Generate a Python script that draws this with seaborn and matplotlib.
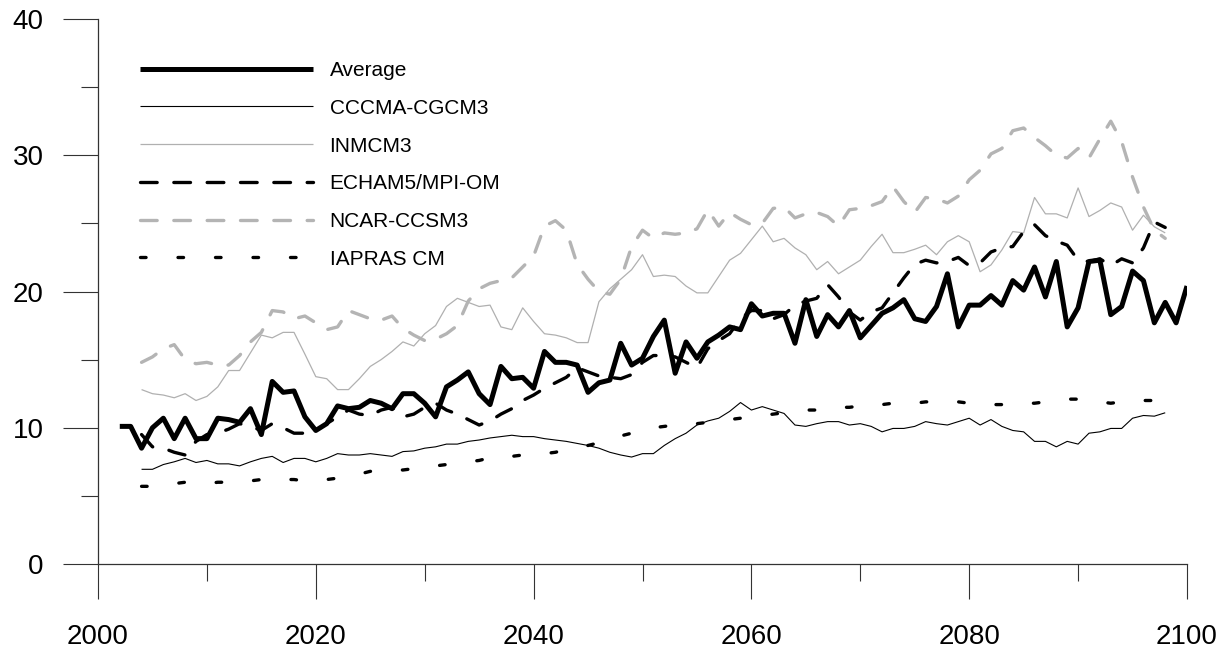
import matplotlib
matplotlib.use("Agg")
import matplotlib.pyplot as plt
import seaborn as sns
import numpy as np
import pandas as pd
from matplotlib.ticker import MultipleLocator

# ---------------- data ----------------
years_avg = list(range(2002, 2101))
years_mod = list(range(2004, 2099))

average = [
    10.1, 10.1, 8.5, 10.0, 10.7, 9.2, 10.7, 9.2,            # 2002-2009
    9.2, 10.7, 10.6, 10.4, 11.4, 9.5, 13.4, 12.6, 12.7, 10.8,  # 2010-2019
    9.8, 10.3, 11.6, 11.4, 11.5, 12.0, 11.8, 11.4, 12.5, 12.5,  # 2020-2029
    11.8, 10.8, 13.0, 13.5, 14.1, 12.5, 11.7, 14.5, 13.6, 13.7,  # 2030-2039
    12.9, 15.6, 14.8, 14.8, 14.6, 12.6, 13.3, 13.5, 16.2, 14.6,  # 2040-2049
    15.1, 16.7, 17.9, 14.0, 16.3, 15.1, 16.3, 16.8, 17.4, 17.2,  # 2050-2059
    19.1, 18.2, 18.4, 18.4, 16.2, 19.4, 16.7, 18.3, 17.4, 18.6,  # 2060-2069
    16.6, 17.5, 18.4, 18.8, 19.4, 18.0, 17.8, 18.9, 21.3, 17.4,  # 2070-2079
    19.0, 19.0, 19.7, 19.0, 20.8, 20.1, 21.8, 19.6, 22.2, 17.4,  # 2080-2089
    18.8, 22.2, 22.3, 18.3, 18.9, 21.5, 20.8, 17.7, 19.2, 17.7,  # 2090-2099
    20.4,                                                        # 2100
]

cccma = [
    6.95, 6.95, 7.3, 7.5, 7.75, 7.45,                            # 2004-2009
    7.6, 7.35, 7.35, 7.2, 7.5, 7.75, 7.9, 7.45, 7.75, 7.75,      # 2010-2019
    7.5, 7.75, 8.1, 8.0, 8.0, 8.1, 8.0, 7.9, 8.25, 8.3,          # 2020-2029
    8.5, 8.6, 8.8, 8.8, 9.0, 9.1, 9.25, 9.35, 9.45, 9.35,        # 2030-2039
    9.35, 9.2, 9.1, 9.0, 8.85, 8.7, 8.5, 8.2, 8.0, 7.85,         # 2040-2049
    8.1, 8.1, 8.7, 9.2, 9.6, 10.2, 10.5, 10.7, 11.2, 11.85,      # 2050-2059
    11.3, 11.55, 11.3, 11.05, 10.2, 10.1, 10.3, 10.45, 10.45, 10.2,  # 2060-2069
    10.3, 10.1, 9.7, 9.95, 9.95, 10.1, 10.45, 10.3, 10.2, 10.45,     # 2070-2079
    10.7, 10.2, 10.6, 10.1, 9.8, 9.7, 9.0, 9.0, 8.6, 9.0,            # 2080-2089
    8.8, 9.6, 9.7, 9.95, 9.95, 10.7, 10.9, 10.85, 11.1,              # 2090-2098
]

inmcm3 = [
    12.8, 12.5, 12.4, 12.2, 12.5, 12.0,                          # 2004-2009
    12.3, 13.0, 14.2, 14.2, 15.5, 16.8, 16.6, 17.0, 17.0, 15.4,  # 2010-2019
    13.75, 13.6, 12.8, 12.8, 13.6, 14.5, 15.0, 15.6, 16.3, 16.0,  # 2020-2029
    16.9, 17.5, 18.9, 19.5, 19.2, 18.9, 19.0, 17.4, 17.2, 18.8,  # 2030-2039
    17.8, 16.9, 16.8, 16.6, 16.25, 16.25, 19.25, 20.2, 20.9, 21.6,  # 2040-2049
    22.7, 21.1, 21.2, 21.1, 20.4, 19.9, 19.9, 21.1, 22.3, 22.8,  # 2050-2059
    23.8, 24.8, 23.65, 23.9, 23.2, 22.7, 21.6, 22.2, 21.3, 21.8,  # 2060-2069
    22.3, 23.3, 24.2, 22.85, 22.85, 23.1, 23.4, 22.7, 23.65, 24.1,  # 2070-2079
    23.65, 21.45, 21.95, 23.05, 24.4, 24.3, 26.9, 25.7, 25.7, 25.4,  # 2080-2089
    27.6, 25.5, 25.95, 26.5, 26.2, 24.5, 25.6, 24.75, 24.3,          # 2090-2098
]

echam5 = [
    9.5, 8.6, 8.5, 8.2, 8.0, 9.0,                                # 2004-2009
    9.5, 9.6, 9.9, 10.3, 10.1, 9.8, 10.3, 10.0, 9.6, 9.6,        # 2010-2019
    9.8, 10.3, 10.8, 11.3, 11.0, 10.9, 11.3, 11.5, 10.8, 11.0,   # 2020-2029
    11.5, 11.8, 11.3, 11.0, 10.6, 10.2, 10.5, 11.0, 11.4, 12.0,  # 2030-2039
    12.4, 12.9, 13.3, 13.7, 14.4, 14.1, 13.8, 13.7, 13.6, 13.9,  # 2040-2049
    14.8, 15.3, 15.3, 15.2, 14.8, 14.4, 15.8, 16.4, 16.9, 18.0,  # 2050-2059
    18.6, 18.6, 18.0, 18.3, 19.0, 19.3, 19.5, 20.5, 19.6, 18.5,  # 2060-2069
    17.9, 18.5, 18.8, 19.9, 21.0, 22.0, 22.3, 22.1, 22.2, 22.5,  # 2070-2079
    21.9, 22.1, 22.9, 23.2, 23.3, 24.4, 24.9, 24.1, 23.7, 23.4,  # 2080-2089
    22.3, 22.2, 22.4, 21.9, 22.4, 22.1, 23.2, 25.1, 24.7,        # 2090-2098
]

ncar = [
    14.8, 15.2, 15.8, 16.1, 15.0, 14.7,                          # 2004-2009
    14.8, 14.6, 14.6, 15.3, 16.3, 17.0, 18.6, 18.5, 18.0, 18.2,  # 2010-2019
    17.7, 17.2, 17.4, 18.6, 18.3, 18.0, 17.9, 18.2, 17.3, 16.8,  # 2020-2029
    16.4, 16.5, 16.9, 17.5, 19.3, 20.2, 20.6, 20.8, 21.0, 21.8,  # 2030-2039
    22.6, 24.8, 25.2, 24.5, 22.0, 20.9, 20.0, 19.8, 20.9, 23.3,  # 2040-2049
    24.5, 23.9, 24.3, 24.2, 24.3, 24.6, 26.0, 24.8, 25.8, 25.3,  # 2050-2059
    24.9, 25.0, 26.1, 26.2, 25.4, 25.7, 25.8, 25.5, 24.8, 26.0,  # 2060-2069
    26.1, 26.3, 26.6, 27.7, 26.6, 25.8, 26.9, 26.8, 26.5, 27.0,  # 2070-2079
    28.2, 28.9, 30.1, 30.5, 31.8, 32.0, 31.3, 30.7, 30.0, 29.8,  # 2080-2089
    30.5, 29.8, 31.2, 32.5, 31.0, 28.4, 26.2, 24.5, 23.9,        # 2090-2098
]

iapras = [
    5.7, 5.7, 5.8, 5.9, 6.0, 5.9,                                # 2004-2009
    5.9, 6.0, 6.0, 6.1, 6.1, 6.2, 6.2, 6.2, 6.2, 6.1,            # 2010-2019
    6.1, 6.2, 6.3, 6.5, 6.6, 6.8, 6.8, 6.9, 6.9, 7.0,            # 2020-2029
    7.1, 7.2, 7.3, 7.4, 7.5, 7.6, 7.8, 7.9, 7.9, 8.0,            # 2030-2039
    8.1, 8.1, 8.2, 8.4, 8.5, 8.7, 8.9, 9.1, 9.4, 9.6,            # 2040-2049
    9.9, 10.0, 10.1, 10.2, 10.3, 10.3, 10.4, 10.5, 10.6, 10.7,   # 2050-2059
    10.8, 10.9, 11.0, 11.1, 11.2, 11.3, 11.3, 11.4, 11.5, 11.5,  # 2060-2069
    11.6, 11.7, 11.7, 11.8, 11.8, 11.8, 11.9, 11.9, 11.9, 11.9,  # 2070-2079
    11.8, 11.7, 11.7, 11.7, 11.8, 11.8, 11.8, 11.9, 12.0, 12.1,  # 2080-2089
    12.1, 12.0, 11.9, 11.8, 11.9, 11.9, 12.0, 12.0, 11.9,        # 2090-2098
]

x_ticks = [2000, 2020, 2040, 2060, 2080, 2100]
y_ticks = [0, 10, 20, 30, 40]

# ---------------- style ----------------
sns.set_style("ticks")
plt.rcParams["font.family"] = ["Liberation Sans", "DejaVu Sans"]
plt.rcParams["lines.scale_dashes"] = False
plt.rcParams["text.color"] = "black"
plt.rcParams["xtick.color"] = "#333333"
plt.rcParams["ytick.color"] = "#333333"
plt.rcParams["xtick.labelcolor"] = "black"
plt.rcParams["ytick.labelcolor"] = "black"

fig = plt.figure(figsize=(12.32, 6.5), dpi=100)
ax = fig.add_axes([98 / 1232, 86 / 650, 1089 / 1232, 545 / 650])

series = [
    ("CCCMA-CGCM3", years_mod, cccma, dict(color="black", lw=0.8), None),
    ("INMCM3", years_mod, inmcm3, dict(color="#b0b0b0", lw=0.9), None),
    ("ECHAM5/MPI-OM", years_mod, echam5, dict(color="black", lw=2.4), (0, (12, 12))),
    ("NCAR-CCSM3", years_mod, ncar, dict(color="#b4b4b4", lw=2.4), (0, (12, 12))),
    ("IAPRAS CM", years_mod, iapras, dict(color="black", lw=2.4), (0, (4, 23))),
    ("Average", years_avg, average, dict(color="black", lw=3.6), None),
]

handles = {}
for name, xs, ys, kw, dash in series:
    df = pd.DataFrame({"year": xs, "value": ys})
    sns.lineplot(data=df, x="year", y="value", ax=ax, legend=False,
                 solid_capstyle="butt", **kw)
    line = ax.get_lines()[-1]
    if dash is not None:
        line.set_linestyle(dash)
        line.set_dash_capstyle("round")
    handles[name] = line

order = ["Average", "CCCMA-CGCM3", "INMCM3", "ECHAM5/MPI-OM", "NCAR-CCSM3", "IAPRAS CM"]
leg = ax.legend([handles[n] for n in order], order,
                loc="upper left", bbox_to_anchor=(140 / 1232, 1 - 61 / 650),
                bbox_transform=fig.transFigure, frameon=False,
                fontsize=15, handlelength=8.3, handletextpad=0.8,
                labelspacing=0.9, borderpad=0, borderaxespad=0)
for t in leg.get_texts():
    t.set_color("black")

ax.set_xlim(2000, 2100)
ax.set_ylim(0, 40)
ax.set_xticks(x_ticks)
ax.set_yticks(y_ticks)
ax.set_xticklabels([str(v) for v in x_ticks])
ax.set_yticklabels([str(v) for v in y_ticks])
ax.xaxis.set_minor_locator(MultipleLocator(10))
ax.yaxis.set_minor_locator(MultipleLocator(5))
ax.tick_params(axis="both", which="both", bottom=True, left=True)
ax.tick_params(axis="both", which="major", direction="out", length=25,
               width=0.8, color="#333333", labelsize=20, labelcolor="black")
ax.tick_params(axis="both", which="minor", direction="out", length=12,
               width=0.8, color="#333333")
ax.tick_params(axis="y", which="major", pad=14)
ax.tick_params(axis="x", which="major", pad=18)
ax.set_xlabel("")
ax.set_ylabel("")
for s in ["top", "right"]:
    ax.spines[s].set_visible(False)
for s in ["left", "bottom"]:
    ax.spines[s].set_color("#333333")
    ax.spines[s].set_linewidth(0.9)

fig.savefig("out.png", dpi=100, facecolor="white")
